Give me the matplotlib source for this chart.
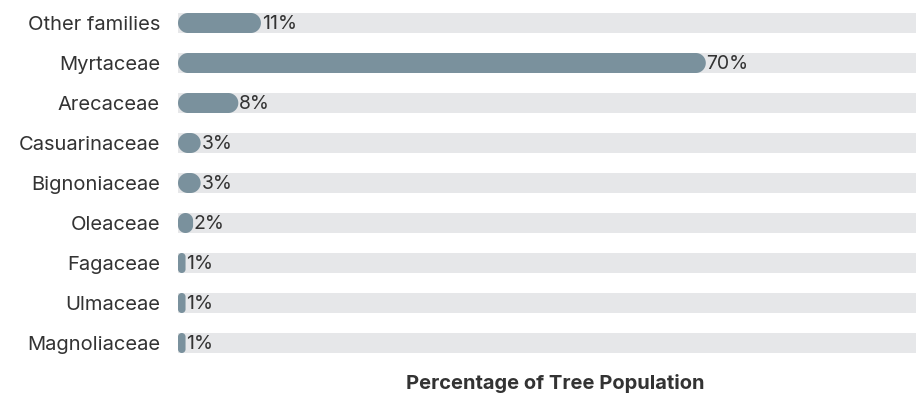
import numpy as np
import matplotlib.pyplot as plt
from matplotlib.patches import Polygon, Rectangle

families = ['Other families', 'Myrtaceae', 'Arecaceae', 'Casuarinaceae', 'Bignoniaceae',
            'Oleaceae', 'Fagaceae', 'Ulmaceae', 'Magnoliaceae']
shares = [11, 70, 8, 3, 3, 2, 1, 1, 1]

bar_color = '#7a919d'
track_color = '#e6e7e9'
text_color = '#333333'

plt.rcParams['font.family'] = ['Inter', 'DejaVu Sans']

W, H, DPI = 916, 397, 100
fig = plt.figure(figsize=(W / DPI, H / DPI), dpi=DPI)

# axes starts at 178px and runs past the right edge so that 100% sits off-canvas
left_px, px_per_unit = 178, 7.54
top_px, row_px = 3, 40
n = len(families)
ax = fig.add_axes([left_px / W, (H - top_px - n * row_px) / H,
                   100 * px_per_unit / W, n * row_px / H])
ax.set_xlim(0, 100)
ax.set_ylim(n - 0.5, -0.5)

bar_h = 0.5  # 20px of a 40px row


def pill(value, row):
    """Stadium outline in data units, corners are true circular arcs in pixels."""
    w_px = value * px_per_unit
    h_px = bar_h * row_px
    r = min(h_px / 2, w_px / 2)
    t = np.linspace(0, np.pi / 2, 20)
    corners = [
        (w_px - r + r * np.cos(t), h_px / 2 - r + r * np.sin(t)),
        (r - r * np.sin(t), h_px / 2 - r + r * np.cos(t)),
        (r - r * np.cos(t), -h_px / 2 + r - r * np.sin(t)),
        (w_px - r + r * np.sin(t), -h_px / 2 + r - r * np.cos(t)),
    ]
    xs = np.concatenate([c[0] for c in corners]) / px_per_unit
    ys = row + np.concatenate([c[1] for c in corners]) / row_px
    return np.column_stack([xs, ys])


for i, v in enumerate(shares):
    ax.add_patch(Rectangle((0, i - bar_h / 2), 100, bar_h, color=track_color, lw=0))
    ax.add_patch(Polygon(pill(v, i), closed=True, fc=bar_color, ec='none'))
    ax.text(v + 0.1, i + 0.03, f'{v}%', va='center', ha='left', fontsize=14, color=text_color)

ax.set_yticks(range(n))
ax.set_yticklabels(families, fontsize=14.5, color=text_color)
ax.tick_params(axis='y', length=0, pad=13)
ax.set_xticks([])
for s in ax.spines.values():
    s.set_visible(False)

ax.set_xlabel('Percentage of Tree Population', fontsize=14.5, fontweight='bold',
              color=text_color, labelpad=8)

fig.savefig('out.png', dpi=DPI)
